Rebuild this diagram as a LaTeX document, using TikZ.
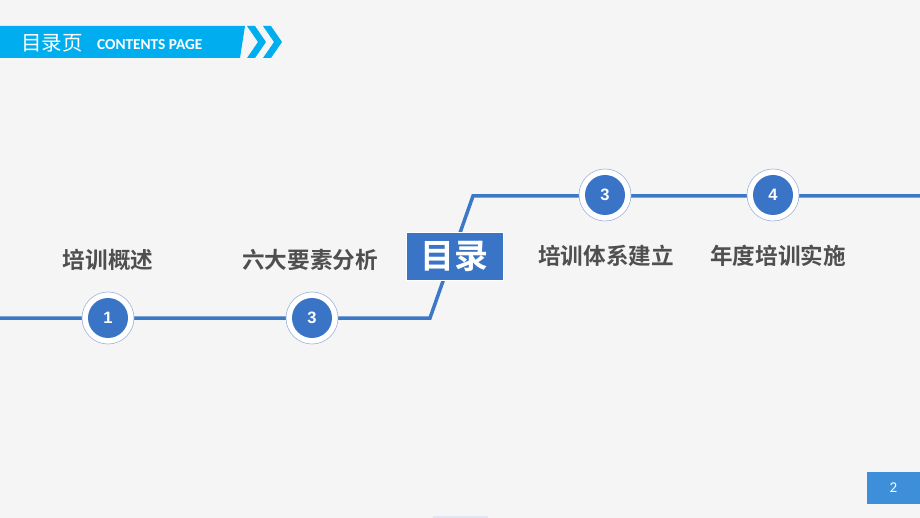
\documentclass[tikz,border=0pt]{standalone}
\usepackage{fontspec}
\newfontfamily\cjk{Noto Sans CJK SC}
\newfontfamily\cjkb{Noto Sans CJK SC Bold}
\newfontfamily\carl{Carlito}
\newfontfamily\carlb{Carlito Bold}
\newfontfamily\numf{Liberation Sans Bold}
\definecolor{bg}{HTML}{F5F5F5}
\definecolor{cyanbar}{HTML}{00AEEF}
\definecolor{lineblue}{HTML}{3C78C8}
\definecolor{dotblue}{HTML}{3A74C6}
\definecolor{ringc}{HTML}{9DB3DB}
\definecolor{labgray}{HTML}{4F4F4F}
\definecolor{pagebox}{HTML}{3D8FD9}
\definecolor{faint}{HTML}{E2E6F2}
\begin{document}
\begin{tikzpicture}[x=1pt,y=-1pt,
  dot/.style={circle,fill=dotblue,minimum size=40pt,inner sep=0pt,text=white,font=\numf\fontsize{16.5}{16.5}\selectfont},
  ring/.style={circle,draw=ringc,line width=0.6pt,fill=white,minimum size=52pt,inner sep=0pt},
  lab/.style={text=labgray,font=\cjkb\fontsize{22.6}{22.6}\selectfont,inner sep=0pt},
  path/.style={draw=lineblue,line width=3.5pt}]
\fill[bg] (0,0) rectangle (920,518);
\useasboundingbox (0,0) rectangle (920,518);
% header
\fill[cyanbar] (0,26) -- (245,26) -- (240,58) -- (0,58) -- cycle;
\fill[cyanbar] (247,26) -- (255,26) -- (266,42) -- (255,58) -- (247,58) -- (258,42) -- cycle;
\fill[cyanbar] (263,26) -- (271,26) -- (282,42) -- (271,58) -- (263,58) -- (274,42) -- cycle;
\node[anchor=west,text=white,font=\cjk\fontsize{20.5}{20.5}\selectfont,inner sep=0pt] (ttl) at (21,43) {目录页};
\node[anchor=west,text=white,font=\carlb\fontsize{15.3}{15.3}\selectfont,inner sep=0pt] (sub) at (97,44.5) {CONTENTS PAGE};
% line
\coordinate (L0) at (0,318);
\coordinate (L1) at (430,318);
\coordinate (U1) at (473,196);
\coordinate (U2) at (920,196);
\draw[path,line join=miter] (L0) -- (L1) -- (U1) -- (U2);
% circles
\node[ring] (r1) at (108,318) {};
\node[dot] (c1) at (r1) {1};
\node[ring] (r2) at (312,318) {};
\node[dot] (c2) at (r2) {3};
\node[ring] (r3) at (605,195) {};
\node[dot] (c3) at (r3) {3};
\node[ring] (r4) at (773,195) {};
\node[dot] (c4) at (r4) {4};
% labels
\node[lab] (t1) at (108,260) {培训概述};
\node[lab] (t2) at (310,260) {六大要素分析};
\node[lab] (t3) at (606,256) {培训体系建立};
\node[lab] (t4) at (778,256) {年度培训实施};
% center box
\node[fill=dotblue,draw=white,line width=0.8pt,minimum width=97pt,minimum height=48pt,inner sep=0pt,text=white,font=\cjkb\fontsize{34}{34}\selectfont] (mulu) at (454.5,256) {目录};
% page number
\node[fill=pagebox,minimum width=53pt,minimum height=32pt,inner sep=0pt,text=white,font=\carl\fontsize{15}{15}\selectfont] (pg) at (893.5,488) {2};
% faint bottom shape
\fill[faint] (433,515.5) rectangle (488,518);
\end{tikzpicture}
\end{document}
